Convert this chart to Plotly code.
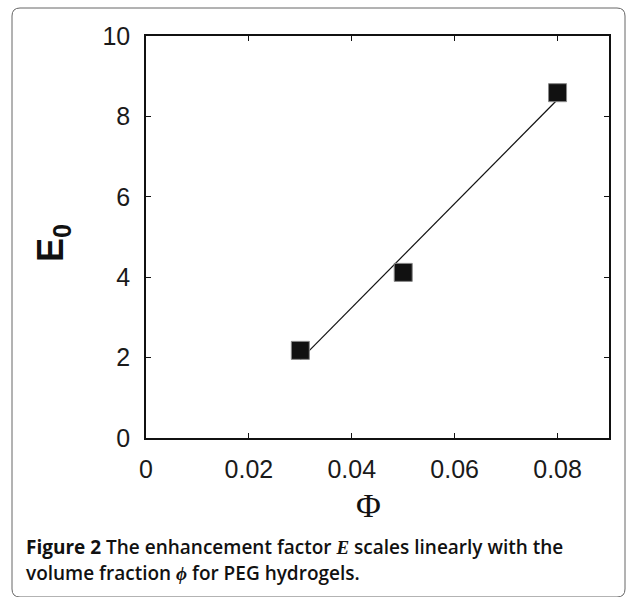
import plotly.graph_objects as go

# data
phi = [0.03, 0.05, 0.08]
E0 = [2.18, 4.12, 8.59]
fit_phi = [0.03, 0.08]
fit_E0 = [1.95, 8.42]
x_ticks = [0, 0.02, 0.04, 0.06, 0.08]
x_ticklabels = ["0", "0.02", "0.04", "0.06", "0.08"]
y_ticks = [0, 2, 4, 6, 8, 10]
y_ticklabels = ["0", "2", "4", "6", "8", "10"]

W, H = 637, 597
L, R, T, B = 146, 609, 36, 438
pw, ph = R - L, B - T

def px(x):
    return (x - L) / pw

def py(y):
    return (B - y) / ph

fig = go.Figure()
fig.add_trace(go.Scatter(x=fit_phi, y=fit_E0, mode="lines",
                         line=dict(color="#111111", width=1.2),
                         showlegend=False, hoverinfo="skip"))
fig.add_trace(go.Scatter(x=phi, y=E0, mode="markers",
                         marker=dict(symbol="square", size=18, color="#111111",
                                     line=dict(color="#888888", width=1)),
                         showlegend=False))

axis_common = dict(showgrid=False, zeroline=False, showline=True, linecolor="#111111",
                   linewidth=1.5, mirror="ticks", ticks="inside", ticklen=5,
                   tickcolor="#111111", tickwidth=1,
                   tickfont=dict(family="Liberation Sans, Arial", size=25, color="#1a1a1a"))

fig.update_xaxes(range=[0, 0.09], tickvals=x_ticks, ticktext=x_ticklabels,
                 ticklabelstandoff=8, **axis_common)
fig.update_yaxes(range=[0, 10], tickvals=y_ticks, ticktext=y_ticklabels,
                 ticklabelstandoff=9, **axis_common)

# rounded frame
x0, x1 = px(12), px(625)
y0, y1 = py(8), py(597)
rx, ry = 8 / pw, 8 / ph
path = (f"M {x0+rx},{y0} L {x1-rx},{y0} Q {x1},{y0} {x1},{y0-ry} "
        f"L {x1},{y1+ry} Q {x1},{y1} {x1-rx},{y1} "
        f"L {x0+rx},{y1} Q {x0},{y1} {x0},{y1+ry} "
        f"L {x0},{y0-ry} Q {x0},{y0} {x0+rx},{y0} Z")
fig.add_shape(type="path", path=path, xref="paper", yref="paper",
              line=dict(color="#666666", width=1))

annotations = [
    dict(x=px(53), y=py(243), xref="paper", yref="paper", text="<b>E<sub>0</sub></b>",
         showarrow=False, textangle=-90, xanchor="center", yanchor="middle",
         font=dict(family="Liberation Sans, Arial", size=36, color="#111111")),
    dict(x=px(368), y=py(506), xref="paper", yref="paper", text="Φ",
         showarrow=False, xanchor="center", yanchor="middle",
         font=dict(family="Liberation Serif, Times New Roman", size=34, color="#111111")),
    dict(x=px(24), y=py(547), xref="paper", yref="paper",
         text=("<b>Figure 2</b> The enhancement factor "
               "<span style='font-family:Liberation Serif'><i>E</i></span>"
               " scales linearly with the"),
         showarrow=False, xanchor="left", yanchor="middle", align="left",
         font=dict(family="Open Sans", size=19, color="#111111", weight=600)),
    dict(x=px(24), y=py(573), xref="paper", yref="paper",
         text=("volume fraction "
               "<span style='font-family:Liberation Serif'><i>ϕ</i></span>"
               " for PEG hydrogels."),
         showarrow=False, xanchor="left", yanchor="middle", align="left",
         font=dict(family="Open Sans", size=19, color="#111111", weight=600)),
]

fig.update_layout(width=W, height=H, margin=dict(l=L, r=W - R, t=T, b=H - B),
                  paper_bgcolor="white", plot_bgcolor="white",
                  annotations=annotations)

fig.write_html("out.html")
